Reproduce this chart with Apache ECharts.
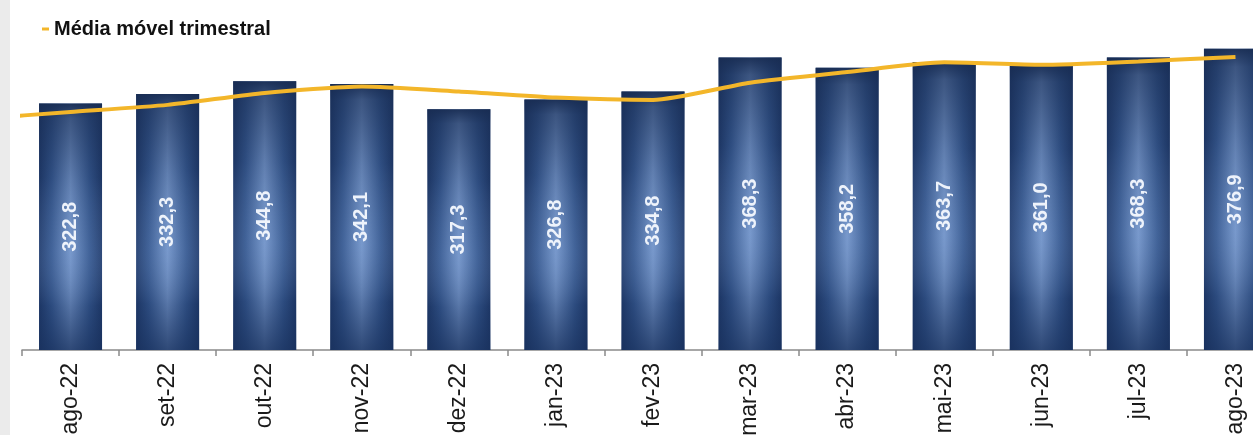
<!DOCTYPE html>
<html>
<head>
<meta charset="utf-8">
<script src="https://cdn.jsdelivr.net/npm/echarts@6/dist/echarts.min.js"></script>
<style>
html,body{margin:0;padding:0;background:#fff;}
#chart{width:1253px;height:435px;}
</style>
</head>
<body>
<div id="chart"></div>
<script>
const categories = ['ago-22','set-22','out-22','nov-22','dez-22','jan-23','fev-23','mar-23','abr-23','mai-23','jun-23','jul-23','ago-23'];
const monthlyTotals = [322.8, 332.3, 344.8, 342.1, 317.3, 326.8, 334.8, 368.3, 358.2, 363.7, 361.0, 368.3, 376.9];
const movingAverage = [314.5, 321.5, 333.3, 339.7, 334.7, 328.7, 326.3, 343.3, 353.8, 363.4, 361.0, 364.3, 368.7];
const movingAveragePriorMonth = 307.5; // jul-22, only its stub at the left edge is visible
const legendLabel = 'Média móvel trimestral';

const lineData = [[-1, movingAveragePriorMonth]].concat(movingAverage.map((v, i) => [i, v]));
const fmt = v => v.toFixed(1).replace('.', ',');

const chart = echarts.init(document.getElementById('chart'), null, {renderer: 'canvas'});
chart.setOption({
  animation: false,
  backgroundColor: '#ffffff',
  textStyle: {fontFamily: 'Liberation Sans, Arial, sans-serif'},
  graphic: [
    {type: 'rect', left: 0, top: 0, shape: {width: 10, height: 435}, style: {fill: '#ebebeb'}, z: 100}
  ],
  legend: {
    data: [{name: legendLabel, icon: 'rect'}],
    left: 37, top: 14,
    itemWidth: 7, itemHeight: 3,
    itemGap: 5,
    textStyle: {fontSize: 20, fontWeight: 'bold', color: '#111', fontFamily: 'Liberation Sans, Arial, sans-serif'}
  },
  grid: {left: 22, top: 45.5, width: 1262, bottom: 85, containLabel: false, outerBoundsMode: 'none'},
  xAxis: [
    {
      type: 'category',
      data: categories,
      boundaryGap: true,
      axisLine: {lineStyle: {color: '#8a8a8a', width: 1.5}},
      axisTick: {show: true, interval: 0, length: 6, lineStyle: {color: '#8a8a8a', width: 1.5}},
      axisLabel: {rotate: 90, interval: 0, margin: 13, fontSize: 23, color: '#1a1a1a', fontFamily: 'Liberation Sans, Arial, sans-serif'}
    },
    {type: 'value', min: -0.5, max: 12.5, show: false}
  ],
  yAxis: {type: 'value', min: 80, max: 380, show: false, splitLine: {show: false}},
  series: [
    {
      name: 'Total',
      type: 'bar',
      data: monthlyTotals,
      barWidth: 63,
      itemStyle: {
        color: {type: 'linear', x: 0, y: 0, x2: 1, y2: 0, colorStops: [
          {offset: 0, color: '#1e3868'},
          {offset: 0.2, color: '#35578e'},
          {offset: 0.5, color: '#7394c8'},
          {offset: 0.8, color: '#35578e'},
          {offset: 1, color: '#1e3868'}
        ]}
      },
      silent: true,
      z: 2
    },
    {
      name: 'TotalShade',
      type: 'bar',
      data: monthlyTotals,
      barWidth: 63,
      barGap: '-100%',
      itemStyle: {
        color: {type: 'linear', x: 0, y: 0, x2: 0, y2: 1, colorStops: [
          {offset: 0, color: 'rgba(24,44,82,0.95)'},
          {offset: 0.06, color: 'rgba(24,44,82,0.6)'},
          {offset: 0.3, color: 'rgba(24,44,82,0.22)'},
          {offset: 0.6, color: 'rgba(160,190,235,0.12)'},
          {offset: 0.82, color: 'rgba(24,48,92,0.3)'},
          {offset: 1, color: 'rgba(24,48,92,0.75)'}
        ]}
      },
      label: {
        show: true,
        position: 'inside',
        rotate: 90,
        align: 'center',
        verticalAlign: 'middle',
        formatter: p => fmt(p.value),
        color: '#eef3fb',
        fontSize: 20,
        fontWeight: 'bold',
        fontFamily: 'Liberation Sans, Arial, sans-serif'
      },
      silent: true,
      z: 3
    },
    {
      name: legendLabel,
      type: 'line',
      xAxisIndex: 1,
      data: lineData,
      clip: true,
      smooth: 0.2,
      symbol: 'none',
      lineStyle: {color: '#f3b62a', width: 4},
      itemStyle: {color: '#f3b62a'},
      z: 5
    }
  ]
});
</script>
</body>
</html>
